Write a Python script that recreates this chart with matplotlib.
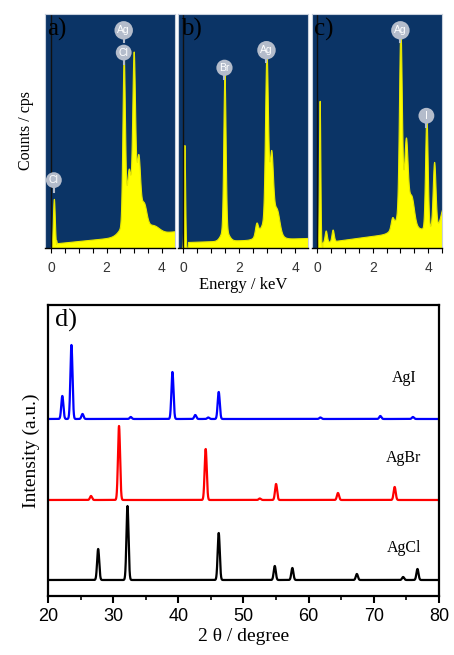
import numpy as np
import matplotlib
matplotlib.use("Agg")
import matplotlib.pyplot as plt
from matplotlib.ticker import MultipleLocator, FixedLocator

# ---------------- EDS spectra (peak tables, energy in keV, relative counts) ----
eds_a_pos = [0.10, 2.62, 2.80, 2.98, 3.15, 3.35, 2.95, 3.70]
eds_a_hgt = [0.21, 0.70, 0.18, 0.66, 0.24, 0.08, 0.12, 0.03]
eds_a_wid = [0.035, 0.045, 0.06, 0.05, 0.06, 0.09, 0.30, 0.20]
eds_a_bg = (0.018, 0.012)          # continuum: offset, slope per keV

eds_b_pos = [0.05, 1.48, 1.48, 2.62, 2.98, 3.15, 3.35, 3.05]
eds_b_hgt = [0.44, 0.66, 0.05, 0.05, 0.70, 0.28, 0.08, 0.10]
eds_b_wid = [0.025, 0.040, 0.13, 0.05, 0.050, 0.06, 0.09, 0.25]
eds_b_bg = (0.025, 0.004)

eds_c_pos = [0.08, 0.30, 0.55, 2.70, 3.00, 3.20, 3.40, 3.10, 3.94, 4.22, 4.55]
eds_c_hgt = [0.63, 0.05, 0.05, 0.04, 0.78, 0.30, 0.10, 0.10, 0.48, 0.28, 0.08]
eds_c_wid = [0.025, 0.04, 0.04, 0.05, 0.050, 0.06, 0.09, 0.25, 0.045, 0.05, 0.10]
eds_c_bg = (0.02, 0.016)

# element badges: (label, energy, height)
badges_a = [("Ag", 2.62, 0.93), ("Cl", 2.62, 0.835), ("Cl", 0.10, 0.29)]
badges_b = [("Br", 1.48, 0.77), ("Ag", 2.98, 0.845)]
badges_c = [("Ag", 3.00, 0.93), ("I", 3.94, 0.565)]

# ---------------- XRD patterns (2 theta in degree, intensity a.u.) -----------
agcl_pos = [27.7, 32.2, 46.2, 54.8, 57.5, 67.4, 74.5, 76.7]
agcl_int = [31, 74, 47, 14, 12, 6, 3, 11]
agbr_pos = [26.6, 30.9, 44.2, 52.5, 55.0, 64.5, 73.2]
agbr_int = [4, 74, 51, 1.5, 16, 7, 13]
agi_pos = [22.2, 23.6, 25.3, 32.7, 39.1, 42.6, 44.6, 46.2, 61.8, 71.0, 76.0]
agi_int = [23, 74, 5, 2, 47, 4, 1.5, 27, 1.5, 3, 2]
offsets = {"AgCl": 16, "AgBr": 96, "AgI": 177}

NAVY = "#0b3466"
YELLOW = "#ffff00"
SERIF = ["Liberation Serif", "DejaVu Serif"]
SANS = ["Liberation Sans", "DejaVu Sans"]


def gauss_sum(x, pos, hgt, wid):
    y = np.zeros_like(x)
    for p, h, w in zip(pos, hgt, wid):
        y += h * np.exp(-0.5 * ((x - p) / w) ** 2)
    return y


fig = plt.figure(figsize=(4.54, 6.55), dpi=100)

eds = [
    ("a)", 0.0991, (-0.22, 4.47), eds_a_pos, eds_a_hgt, eds_a_wid, eds_a_bg, badges_a),
    ("b)", 0.392, (-0.18, 4.46), eds_b_pos, eds_b_hgt, eds_b_wid, eds_b_bg, badges_b),
    ("c)", 0.687, (-0.20, 4.50), eds_c_pos, eds_c_hgt, eds_c_wid, eds_c_bg, badges_c),
]

for tag, left, xl, pos, hgt, wid, bg, badges in eds:
    ax = fig.add_axes([left, 0.6214, 0.2863, 0.3573])
    ax.set_facecolor(NAVY)
    e = np.linspace(-0.06, xl[1] + 0.05, 1500)
    cont = np.where(e > 0.18, bg[0] + bg[1] * e, 0.0)
    y = gauss_sum(e, pos, hgt, wid) + cont
    ax.fill_between(e, 0, y, color=YELLOW, lw=0.8, edgecolor="#e8e800")
    ax.axvline(0, color="#111111", lw=1.0)
    ax.set_xlim(*xl)
    ax.set_ylim(0, 1)
    for lbl, ex, ey in badges:
        ax.plot([ex, ex], [ey - 0.05, ey - 0.02], color="#b4bccb", lw=1.5)
        ax.text(ex, ey, lbl, ha="center", va="center", color="white",
                fontsize=7.5, family=SANS,
                bbox=dict(boxstyle="circle,pad=0.28", fc="#b4bccb", ec="none"))
    ax.text(0.02, 0.985, tag, transform=ax.transAxes, ha="left", va="top",
            fontsize=18, family=SERIF, color="black")
    for s in ("top", "left", "right"):
        ax.spines[s].set_color("#c8d0dc")
        ax.spines[s].set_linewidth(0.8)
    ax.spines["bottom"].set_color("black")
    ax.spines["bottom"].set_linewidth(1.0)
    ax.set_yticks([])
    ax.xaxis.set_major_locator(FixedLocator([0, 2, 4]))
    ax.xaxis.set_minor_locator(MultipleLocator(0.5))
    ax.tick_params(axis="x", which="both", direction="out", length=3.5,
                   width=0.8, color="black", labelsize=10, labelcolor="#333333", pad=6)
    for t in ax.get_xticklabels():
        t.set_family(SANS)
    if tag == "a)":
        ax.set_ylabel("Counts / cps", family=SERIF, fontsize=11.5, labelpad=8)
    if tag == "b)":
        ax.set_xlabel("Energy / keV", family=SERIF, fontsize=12, labelpad=1)

# ---------------- XRD panel ----------------
axd = fig.add_axes([0.1057, 0.0901, 0.8612, 0.4443])
tt = np.linspace(20, 80, 6000)
series = [("AgCl", agcl_pos, agcl_int, "black"),
          ("AgBr", agbr_pos, agbr_int, "#ff0000"),
          ("AgI", agi_pos, agi_int, "#0000ff")]
for name, p, h, c in series:
    y = gauss_sum(tt, p, h, [0.16] * len(p)) + offsets[name]
    axd.plot(tt, y, color=c, lw=1.6)
label_y = {"AgI": 218, "AgBr": 138, "AgCl": 48}
for name, yy in label_y.items():
    axd.text(74.6, yy, name, ha="center", va="center", family=SERIF, fontsize=11.5)

axd.set_xlim(20, 80)
axd.set_ylim(0, 291)
axd.set_yticks([])
axd.xaxis.set_major_locator(MultipleLocator(10))
axd.xaxis.set_minor_locator(MultipleLocator(5))
axd.tick_params(axis="x", which="major", direction="out", length=5, width=1.5,
                labelsize=13, pad=4)
axd.tick_params(axis="x", which="minor", direction="out", length=3, width=1.2)
for t in axd.get_xticklabels():
    t.set_family(SANS)
for s in axd.spines.values():
    s.set_linewidth(1.6)
axd.set_xlabel("2 θ / degree", family=SERIF, fontsize=14, labelpad=2)
axd.set_ylabel("Intensity (a.u.)", family=SERIF, fontsize=14, labelpad=6)
axd.text(0.018, 0.985, "d)", transform=axd.transAxes, ha="left", va="top",
         fontsize=19, family=SERIF)

fig.savefig("out.png", dpi=100)
